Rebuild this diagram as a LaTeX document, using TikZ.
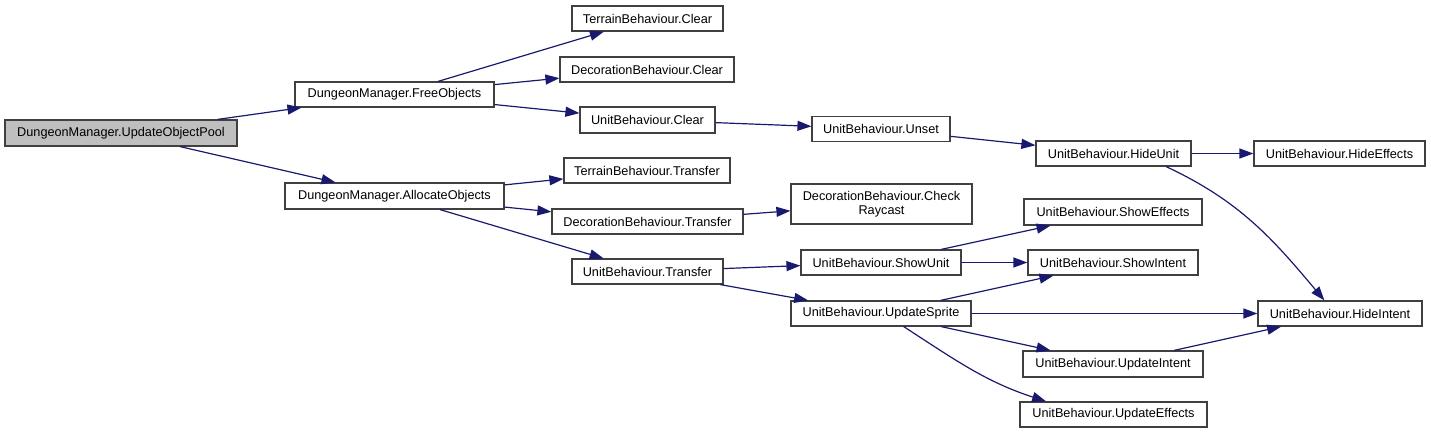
\documentclass[tikz,border=0pt]{standalone}
\usepackage{fontspec}
\setmainfont{Liberation Sans}
\usepackage{tikz}
\usetikzlibrary{arrows.meta, positioning}
\usepackage{xcolor}
\definecolor{edgeblue}{HTML}{191970}
\definecolor{boxline}{HTML}{404040}

\begin{document}
\begin{tikzpicture}[
    x=1pt, y=-1pt,
    fn/.style={rectangle, draw=boxline, line width=1.2pt, fill=white, inner sep=0pt, minimum height=25pt, align=center, font=\fontsize{12.7}{14.5}\selectfont},
    rootfn/.style={fn, fill=black!25},
    call/.style={-{Triangle[length=14pt,width=10pt]}, line width=1.2pt, draw=edgeblue}]
\useasboundingbox (0,0) rectangle (1431,433);
\node[rootfn, minimum width=232pt, minimum height=26pt] (root) at (121,133) {DungeonManager.UpdateObjectPool};
\node[fn, minimum width=199pt] (free) at (394.5,94.5) {DungeonManager.FreeObjects};
\node[fn, minimum width=219pt, minimum height=26pt] (alloc) at (394.5,196) {DungeonManager.AllocateObjects};
\node[fn, minimum width=151pt] (tclear) at (647.5,18.5) {TerrainBehaviour.Clear};
\node[fn, minimum width=174pt] (dclear) at (647,69.5) {DecorationBehaviour.Clear};
\node[fn, minimum width=135pt, minimum height=26pt] (uclear) at (647.5,120) {UnitBehaviour.Clear};
\node[fn, minimum width=166pt] (ttrans) at (647,170.5) {TerrainBehaviour.Transfer};
\node[fn, minimum width=191pt] (dtrans) at (647.5,221.5) {DecorationBehaviour.Transfer};
\node[fn, minimum width=151pt] (utrans) at (647.5,271.5) {UnitBehaviour.Transfer};
\node[fn, minimum width=138pt] (unset) at (881,129) {UnitBehaviour.Unset};
\node[fn, minimum width=181pt, minimum height=40pt] (raycast) at (881.5,204) {DecorationBehaviour.Check\\Raycast};
\node[fn, minimum width=160pt] (showunit) at (881,262.5) {UnitBehaviour.ShowUnit};
\node[fn, minimum width=180pt] (sprite) at (881,313.5) {UnitBehaviour.UpdateSprite};
\node[fn, minimum width=155pt] (hideunit) at (1113.5,153.5) {UnitBehaviour.HideUnit};
\node[fn, minimum width=178pt, minimum height=26pt] (showeff) at (1113,212) {UnitBehaviour.ShowEffects};
\node[fn, minimum width=170pt] (showint) at (1113,262.5) {UnitBehaviour.ShowIntent};
\node[fn, minimum width=180pt, minimum height=26pt] (updint) at (1113,364) {UnitBehaviour.UpdateIntent};
\node[fn, minimum width=187pt] (updeff) at (1113.5,414.5) {UnitBehaviour.UpdateEffects};
\node[fn, minimum width=171pt] (hideeff) at (1339.5,153.5) {UnitBehaviour.HideEffects};
\node[fn, minimum width=164pt] (hideint) at (1340,313.5) {UnitBehaviour.HideIntent};
% straight calls
\foreach \src/\dest in {root/free, root/alloc, free/tclear, free/dclear, free/uclear,
    uclear/unset, unset/hideunit, hideunit/hideeff, alloc/ttrans, alloc/dtrans,
    alloc/utrans, dtrans/raycast, utrans/showunit, utrans/sprite, showunit/showeff,
    showunit/showint, sprite/showint, sprite/hideint, sprite/updint, updint/hideint}
    \draw[call] (\src) -- (\dest);
% curved calls
\draw[call] (hideunit.-14) to[out=-25, in=130] (hideint.140);
\draw[call] (sprite.-30) to[out=-33, in=162] (updeff.169);
\end{tikzpicture}
\end{document}
